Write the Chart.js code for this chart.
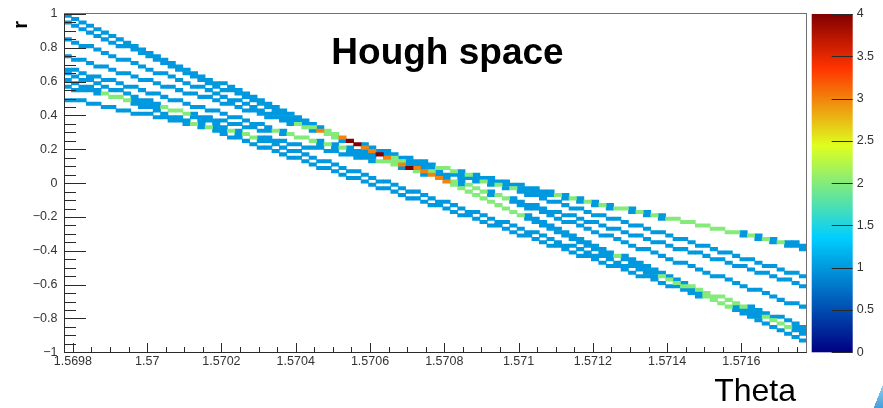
<!DOCTYPE html>
<html>
<head>
<meta charset="utf-8">
<script src="https://cdn.jsdelivr.net/npm/chart.js@4.4.1/dist/chart.umd.min.js"></script>
<style>
  html, body { margin: 0; padding: 0; background: #ffffff; overflow: hidden; }
  #wrap { position: relative; width: 883px; height: 408px; }
  canvas { display: block; }
  .corner {
    position: absolute; left: 878px; top: 384px; width: 10px; height: 26px;
    background: linear-gradient(#8fd0f2, #3f9bd9); transform: skewX(-22deg);
  }
</style>
</head>
<body>
<div id="wrap">
  <canvas id="hough" width="883" height="408"></canvas>
  <div class="corner"></div>
</div>
<script>
// ---- Accumulator binning (theta x r) ----
const thetaRange = [1.569776, 1.571776];
const thetaBins = 100;
const rRange = [-1, 1];
const rBins = 100;

// r-bin index filled by each hit, one entry per theta bin (bins 0..99)
const track1 = [99,98,97,96,95,94,93,92,91,90, 89,88,87,86,85,84,83,82,81,80,
  79,79,78,77,76,75,74,73,72,71, 70,69,68,67,66,65,64,63,62,61,
  60,59,58,57,56,55,54,54,53,52, 51,50,49,48,47,46,45,44,43,42,
  41,40,39,38,37,36,35,34,33,32, 31,30,29,28,28,27,26,25,24,23,
  22,21,20,19,18,17,16,15,14,13, 12,11,10,9,8,7,6,5,4,3];
const track2 = [97,96,95,94,93,92,91,90,90,89, 88,87,86,85,84,83,82,81,80,79,
  78,77,77,76,75,74,73,72,71,70, 69,68,67,66,65,65,64,63,62,61,
  60,59,58,57,56,55,54,53,53,52, 51,50,49,48,47,46,45,44,43,42,
  41,40,40,39,38,37,36,35,34,33, 32,31,30,29,28,28,27,26,25,24,
  23,22,21,20,19,18,17,16,16,15, 14,13,12,11,10,9,8,7,6,5];
const track3 = [92,91,90,90,89, 88,87,86,86,85, 84,83,82,82,81, 80,79,78,78,77,
  76,75,74,74,73, 72,71,70,70,69, 68,67,66,66,65, 64,63,62,62,61,
  60,59,58,58,57, 56,55,54,54,53, 52,51,50,50,49, 48,47,46,46,45,
  44,43,42,42,41, 40,39,38,38,37, 36,35,34,34,33, 32,31,30,30,29,
  28,27,26,26,25, 24,23,22,22,21, 20,19,18,18,17, 16,15,14,14,13];
const track4 = [87,86,86,85,84,84,83,82,82,81, 80,80,79,78,78,77,76,76,75,75,
  74,73,73,72,71,71,70,69,69,68, 67,67,66,65,65,64,63,63,62,61,
  61,60,59,59,58,57,57,56,56,55, 54,54,53,52,52,51,50,50,49,48,
  48,47,46,46,45,44,44,43,42,42, 41,40,40,39,39,38,37,37,36,35,
  35,34,33,33,32,31,31,30,29,29, 28,27,27,26,25,25,24,23,23,22];
const track5 = [83,83,82,81,81,80,80,79,78,78, 77,76,76,75,74,74,73,72,72,71,
  71,70,69,69,68,67,67,66,65,65, 64,63,63,62,61,61,60,60,59,58,
  58,57,56,56,55,54,54,53,52,52, 51,50,50,49,49,48,47,47,46,45,
  45,44,43,43,42,41,41,40,40,39, 38,38,37,36,36,35,34,34,33,32,
  32,31,30,30,29,29,28,27,27,26, 25,25,24,23,23,22,21,21,20,19];
const track6 = [82,81,80,80,79,78,77,77,76,75, 74,74,73,72,71,71,70,69,68,68,
  67,66,65,65,64,63,62,62,61,60, 59,59,58,57,56,56,55,54,53,53,
  52,51,50,50,49,48,47,47,46,45, 44,44,43,42,41,41,40,39,38,38,
  37,36,35,35,34,33,32,31,31,30, 29,28,28,27,26,25,25,24,23,22,
  22,21,20,19,19,18,17,16,16,15, 14,13,13,12,11,10,10,9,8,7];
const track7 = [80,79,78,78,77,76,75,75,74,73, 72,72,71,70,69,69,68,67,66,66,
  65,64,63,63,62,61,60,60,59,58, 57,57,56,55,54,54,53,52,51,51,
  50,49,48,48,47,46,45,45,44,43, 43,42,41,40,40,39,38,37,37,36,
  35,34,34,33,32,31,31,30,29,28, 28,27,26,25,25,24,23,22,22,21,
  20,19,19,18,17,16,16,15,14,13, 13,12,11,10,10,9,8,7,7,6];
const track8 = [78,77,77,77,76,76,75,75,74,74, 73,73,72,72,71,71,70,70,69,69,
  68,68,67,67,66,66,65,65,65,64, 64,63,63,62,62,61,61,60,60,59,
  59,58,58,57,57,56,56,55,55,54, 54,54,53,53,52,52,51,51,50,50,
  49,49,48,48,47,47,46,46,45,45, 44,44,43,43,42,42,42,41,41,40,
  40,39,39,38,38,37,37,36,36,35, 35,34,34,33,33,32,32,31,31,30];
const track9 = [74,74,74,73,73,72,72,71,71,70, 70,70,69,69,68,68,67,67,67,66,
  66,65,65,64,64,63,63,63,62,62, 61,61,60,60,60,59,59,58,58,57,
  57,56,56,56,55,55,54,54,53,53, 53,52,52,51,51,50,50,49,49,49,
  48,48,47,47,46,46,46,45,45,44, 44,43,43,42,42,42,41,41,40,40,
  39,39,39,38,38,37,37,36,36,35, 35,35,34,34,33,33,32,32,32,31];

const tracks = [track1, track2, track3, track4, track5, track6, track7, track8, track9];

// ---- Axis ticks ----
const xTickValues = [1.5698, 1.5700, 1.5702, 1.5704, 1.5706, 1.5708, 1.5710, 1.5712, 1.5714, 1.5716];
const xTickLabels = ['1.5698', '1.57', '1.5702', '1.5704', '1.5706', '1.5708', '1.571', '1.5712', '1.5714', '1.5716'];
const yTickValues = [-1, -0.8, -0.6, -0.4, -0.2, 0, 0.2, 0.4, 0.6, 0.8, 1];
const yTickLabels = ['\u22121', '\u22120.8', '\u22120.6', '\u22120.4', '\u22120.2', '0', '0.2', '0.4', '0.6', '0.8', '1'];
const zRange = [0, 4];
const zTickValues = [0, 0.5, 1, 1.5, 2, 2.5, 3, 3.5, 4];
const zTickLabels = ['0', '0.5', '1', '1.5', '2', '2.5', '3', '3.5', '4'];

// ---- Colour palette (rainbow) ----
const paletteStops = [0, 0.34, 0.61, 0.84, 1];
const paletteRGB = [[0, 0, 130], [0, 207, 255], [222, 255, 31], [255, 51, 0], [130, 0, 0]];

function paletteColor(t) {
  t = Math.max(0, Math.min(1, t));
  let i = 0;
  while (i < paletteStops.length - 2 && t > paletteStops[i + 1]) i++;
  const f = (t - paletteStops[i]) / (paletteStops[i + 1] - paletteStops[i]);
  const a = paletteRGB[i], b = paletteRGB[i + 1];
  const c = a.map((v, k) => Math.round(v + (b[k] - v) * f));
  return `rgb(${c[0]},${c[1]},${c[2]})`;
}

// ---- Fill the 2D histogram ----
const dTheta = (thetaRange[1] - thetaRange[0]) / thetaBins;
const dR = (rRange[1] - rRange[0]) / rBins;
const counts = new Map();
tracks.forEach(track => {
  track.forEach((rb, col) => {
    const key = col * rBins + rb;
    counts.set(key, (counts.get(key) || 0) + 1);
  });
});
const cells = [];
counts.forEach((v, key) => {
  const col = Math.floor(key / rBins), rb = key % rBins;
  cells.push({
    x: thetaRange[0] + (col + 0.5) * dTheta,
    y: [rRange[0] + rb * dR, rRange[0] + (rb + 1) * dR],
    v
  });
});
cells.sort((p, q) => p.v - q.v);

const FONT = "'Liberation Sans', Arial, Helvetica, sans-serif";
Chart.defaults.font.family = FONT;

// ---- Frame, inward ticks, colour bar and captions ----
const rootFrame = {
  id: 'rootFrame',
  afterDraw(chart) {
    const { ctx, chartArea: a, scales: { x, y, z } } = chart;
    ctx.save();

    // pad frame
    ctx.lineWidth = 1;
    ctx.strokeStyle = '#707070';
    ctx.strokeRect(Math.round(a.left) + 0.5, Math.round(a.top) - 0.5,
      Math.round(a.right) - Math.round(a.left) - 1, Math.round(a.bottom) - Math.round(a.top) + 1);

    // axis lines
    ctx.strokeStyle = '#2a2a2a';
    ctx.beginPath();
    ctx.moveTo(Math.round(a.left) + 0.5, a.top);
    ctx.lineTo(Math.round(a.left) + 0.5, Math.round(a.bottom) + 0.5);
    ctx.lineTo(a.right, Math.round(a.bottom) + 0.5);
    ctx.stroke();

    // x ticks (major + 4 subdivisions), pointing up into the frame
    const xStep = (xTickValues[1] - xTickValues[0]) / 4;
    let xv = xTickValues[0];
    while (xv - xStep >= x.min) xv -= xStep;
    ctx.beginPath();
    for (; xv <= x.max + 1e-12; xv += xStep) {
      const k = (xv - xTickValues[0]) / (4 * xStep);
      const major = Math.abs(k - Math.round(k)) < 1e-6;
      const px = Math.round(x.getPixelForValue(xv)) + 0.5;
      ctx.moveTo(px, Math.round(a.bottom));
      ctx.lineTo(px, Math.round(a.bottom) - (major ? 9 : 5));
    }
    ctx.stroke();

    // y ticks, pointing right into the frame
    const yStep = (yTickValues[1] - yTickValues[0]) / 4;
    ctx.beginPath();
    for (let yv = y.min; yv <= y.max + 1e-9; yv += yStep) {
      const k = (yv - yTickValues[0]) / (4 * yStep);
      const major = Math.abs(k - Math.round(k)) < 1e-6;
      const py = Math.round(y.getPixelForValue(yv)) + 0.5;
      ctx.moveTo(Math.round(a.left), py);
      ctx.lineTo(Math.round(a.left) + (major ? 22 : 12), py);
    }
    ctx.stroke();

    // colour bar
    const zTop = z.getPixelForValue(zRange[1]);
    const zBot = z.getPixelForValue(zRange[0]);
    const barLeft = a.right + 5, barRight = a.right + 46;
    const grad = ctx.createLinearGradient(0, zBot, 0, zTop);
    paletteStops.forEach((s, i) => {
      const c = paletteRGB[i];
      grad.addColorStop(s, `rgb(${c[0]},${c[1]},${c[2]})`);
    });
    ctx.fillStyle = grad;
    ctx.fillRect(barLeft, zTop, barRight - barLeft, zBot - zTop);
    ctx.strokeStyle = '#2a2a2a';
    ctx.beginPath();
    zTickValues.forEach(v => {
      const py = Math.round(z.getPixelForValue(v)) + 0.5;
      ctx.moveTo(barRight - 21, py);
      ctx.lineTo(barRight, py);
    });
    ctx.stroke();

    // captions
    ctx.fillStyle = '#000';
    ctx.textBaseline = 'alphabetic';
    ctx.font = `bold 37px ${FONT}`;
    ctx.textAlign = 'center';
    ctx.fillText('Hough space', 447.5, 64);

    ctx.font = `32px ${FONT}`;
    ctx.textAlign = 'right';
    ctx.fillText('Theta', 796, 401);

    ctx.save();
    ctx.translate(27, 21);
    ctx.rotate(-Math.PI / 2);
    ctx.font = `bold 20px ${FONT}`;
    ctx.textAlign = 'right';
    ctx.fillText('r', 0, 0);
    ctx.restore();

    ctx.restore();
  }
};

new Chart(document.getElementById('hough'), {
  type: 'bar',
  data: {
    datasets: [{
      data: cells,
      backgroundColor: c => paletteColor(c.raw.v / zRange[1]),
      borderWidth: 0,
      categoryPercentage: 1,
      barPercentage: 1,
      xAxisID: 'x',
      yAxisID: 'y'
    }]
  },
  options: {
    responsive: false,
    animation: false,
    events: [],
    devicePixelRatio: 1,
    layout: { padding: { top: 14, right: 0, bottom: 0, left: 0 } },
    plugins: { legend: { display: false }, tooltip: { enabled: false }, title: { display: false } },
    scales: {
      x: {
        type: 'linear',
        position: 'bottom',
        min: thetaRange[0],
        max: thetaRange[1],
        offset: false,
        grid: { display: false, drawTicks: false },
        border: { display: false },
        afterBuildTicks: s => { s.ticks = xTickValues.map(v => ({ value: v })); },
        afterFit: s => { s.height = 55.7; },
        ticks: {
          callback: (v, i) => xTickLabels[i],
          autoSkip: false, maxRotation: 0, minRotation: 0,
          padding: 1.5,
          color: '#333',
          font: { size: 12.5, family: FONT }
        }
      },
      y: {
        type: 'linear',
        position: 'left',
        min: rRange[0],
        max: rRange[1],
        grid: { display: false, drawTicks: false },
        border: { display: false },
        afterBuildTicks: s => { s.ticks = yTickValues.map(v => ({ value: v })); },
        afterFit: s => { s.width = 64; },
        ticks: {
          callback: (v, i) => yTickLabels[i],
          autoSkip: false,
          padding: 6.5,
          color: '#333',
          font: { size: 12.5, family: FONT }
        }
      },
      z: {
        type: 'linear',
        position: 'right',
        display: true,
        min: zRange[0],
        max: zRange[1],
        grid: { display: false, drawTicks: true, tickLength: 47 },
        border: { display: false },
        afterBuildTicks: s => { s.ticks = zTickValues.map(v => ({ value: v })); },
        afterFit: s => { s.width = 76.3; },
        ticks: {
          callback: (v, i) => zTickLabels[i],
          autoSkip: false,
          padding: 3,
          color: '#333',
          font: { size: 12.5, family: FONT }
        }
      }
    }
  },
  plugins: [rootFrame]
});
</script>
</body>
</html>
